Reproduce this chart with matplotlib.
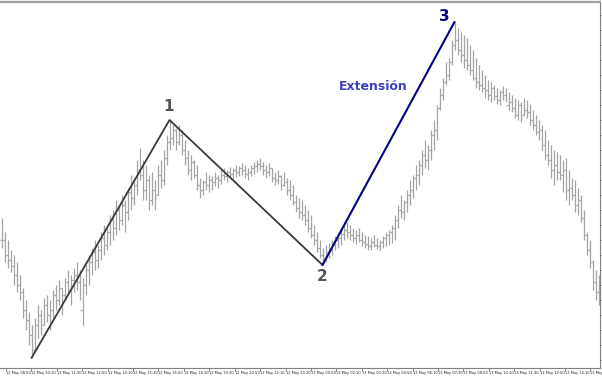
import matplotlib
matplotlib.use("Agg")
import matplotlib.pyplot as plt
import numpy as np

# ---- data (price in points) ----
high = [152,138,130,120,115,108,95,82,70,58,
        45,52,65,60,72,75,70,80,85,90,
        82,92,100,95,102,108,100,92,105,115,
        122,130,125,138,145,142,155,160,170,165,
        175,170,182,195,190,210,222,210,205,195,
        198,190,205,210,220,235,250,245,242,245,
        240,230,220,215,210,205,192,190,198,195,
        194,198,195,200,202,200,203,202,205,204,
        207,205,202,205,208,210,212,208,205,207,
        202,198,200,195,198,192,190,185,175,172,
        170,165,160,155,145,138,130,122,125,127,
        130,134,138,140,145,148,145,142,140,142,
        138,135,134,132,135,132,130,134,138,140,
        145,155,165,175,170,180,190,195,205,210,
        220,230,225,240,250,265,282,292,308,312,
        330,348,342,338,335,332,325,320,312,305,
        300,295,290,288,285,282,280,284,282,278,
        275,272,270,268,272,270,266,260,255,250,
        245,240,230,225,220,218,215,210,212,200,
        192,190,182,175,160,138,130,110,100,95]
low = [122,108,102,98,85,78,70,52,40,25,
       12,20,32,35,45,48,40,52,60,65,
       55,70,75,65,78,80,70,45,75,85,
       95,100,102,110,115,120,125,130,135,140,
       145,138,150,160,165,175,190,170,170,160,
       165,160,175,182,185,205,220,225,220,225,
       215,205,195,190,192,180,172,175,180,178,
       180,184,182,186,190,188,192,191,193,194,
       195,192,190,194,196,198,200,195,192,194,
       188,185,186,180,184,175,170,165,158,152,
       150,145,138,132,125,118,112,105,108,112,
       115,120,122,125,130,132,130,128,126,128,
       124,122,120,120,123,121,120,122,124,125,
       127,130,142,152,150,158,165,172,180,185,
       195,202,200,210,220,230,260,270,285,290,
       305,320,315,308,302,300,295,290,282,280,
       278,272,270,268,270,266,265,270,268,260,
       258,252,250,248,255,252,245,240,235,230,
       220,210,205,192,185,190,190,178,170,165,
       170,158,155,148,130,115,102,80,70,65]
close = [130,115,110,104,95,85,78,60,50,35,
         20,45,55,42,65,55,60,75,70,82,
         75,88,80,90,95,88,60,85,100,108,
         118,110,120,132,125,138,150,142,160,150,
         165,158,178,172,185,200,195,180,190,170,
         180,172,195,190,212,228,232,240,228,235,
         220,212,200,208,195,185,180,188,185,190,
         188,192,190,195,194,198,196,200,198,202,
         200,196,198,202,204,206,204,200,198,202,
         192,190,194,185,188,180,175,168,162,158,
         155,150,142,135,130,122,115,110,118,120,
         125,130,132,136,140,138,135,132,135,130,
         128,126,124,128,125,124,128,132,135,138,
         142,150,160,158,168,175,180,192,195,205,
         215,210,220,235,240,262,275,288,295,308,
         325,330,320,315,310,305,300,292,288,285,
         282,280,275,282,274,270,278,275,265,268,
         262,255,265,252,260,258,250,245,238,240,
         225,215,210,200,205,198,195,200,180,182,
         175,165,170,152,135,120,108,88,78,75]

time_labels = ["12 May 08:50", "12 May 10:10", "12 May 11:30", "12 May 12:50",
               "12 May 14:10", "12 May 15:30", "12 May 16:50", "12 May 18:10",
               "12 May 19:30", "12 May 20:50", "12 May 22:10", "12 May 23:30",
               "13 May 00:50", "13 May 02:10", "13 May 03:30", "13 May 04:50",
               "13 May 06:10", "13 May 07:30", "13 May 08:50", "13 May 10:10",
               "13 May 11:30", "13 May 12:50", "13 May 14:10", "13 May 15:30"]

# wave points (bar indices)
wave1_start, wave1_peak, wave2_low, wave3_peak = 10, 56, 107, 151

# ---- figure ----
W, H = 602, 377
fig = plt.figure(figsize=(W / 100, H / 100), dpi=100)
fig.patch.set_facecolor("white")
ax = fig.add_axes([0, 9 / H, 600 / W, 366 / H])

n = len(high)
idx = np.arange(n)
opens = np.clip(np.array([close[0]] + close[:-1]), low, high)

bar_col = "#a4a4a4"
ax.vlines(idx, low, high, color=bar_col, linewidth=0.9)
ax.hlines(opens, idx - 0.45, idx, color=bar_col, linewidth=0.9)
ax.hlines(close, idx, idx + 0.45, color=bar_col, linewidth=0.9)

# wave lines
ax.plot([wave1_start, wave1_peak, wave2_low],
        [low[wave1_start], high[wave1_peak], low[wave2_low]],
        color="#3a3a3a", linewidth=1.3, solid_capstyle="round")
ax.plot([wave2_low, wave3_peak],
        [low[wave2_low], high[wave3_peak]],
        color="#000080", linewidth=1.5, solid_capstyle="round")

# labels
ax.text(wave1_peak - 0.2, high[wave1_peak] + 6, "1", color="#555555",
        fontsize=11, fontweight="bold", ha="center", va="bottom")
ax.text(wave2_low, low[wave2_low] - 4, "2", color="#555555",
        fontsize=11, fontweight="bold", ha="center", va="top")
ax.text(wave3_peak - 3.5, high[wave3_peak] - 2, "3", color="#000080",
        fontsize=11, fontweight="bold", ha="center", va="bottom")
ax.text(124, 284, "Extensión", color="#3f3fbf", fontsize=9,
        fontweight="bold", ha="center", va="center")

ax.set_xlim(-0.5, n - 0.5)
ax.set_ylim(2, 368)

# x ticks
tick_pos = [1.5 + 8.47 * k for k in range(len(time_labels))]
ax.set_xticks(tick_pos)
ax.set_xticklabels(time_labels, fontsize=2.6, ha="left", color="#222222")
ax.tick_params(axis="x", direction="out", length=2, width=0.5,
               colors="#555555", pad=0.5, labelcolor="#222222")
ax.yaxis.tick_right()
ax.set_yticks(np.arange(10, 368, 15))
ax.tick_params(axis="y", direction="out", length=2, width=0.5,
               colors="#777777", labelright=False, labelleft=False)

ax.spines["left"].set_visible(False)
ax.spines["top"].set_color("#a0a0a0")
ax.spines["top"].set_linewidth(1.6)
ax.spines["right"].set_color("#808080")
ax.spines["right"].set_linewidth(0.8)
ax.spines["bottom"].set_color("#808080")
ax.spines["bottom"].set_linewidth(0.8)

fig.savefig("out.png", dpi=100, facecolor="white")
